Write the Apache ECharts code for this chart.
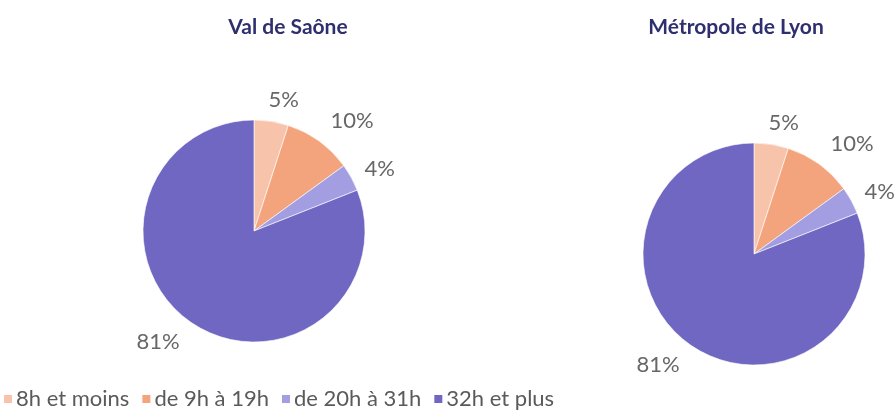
<!DOCTYPE html>
<html>
<head>
<meta charset="utf-8">
<script src="https://cdn.jsdelivr.net/npm/echarts@6/dist/echarts.min.js"></script>
<style>
  html, body { margin: 0; padding: 0; background: #fff; }
  #chart { width: 896px; height: 415px; }
</style>
</head>
<body>
<div id="chart"></div>
<script>
// Répartition par volume horaire hebdomadaire
const categories = ['8h et moins', 'de 9h à 19h', 'de 20h à 31h', '32h et plus'];
const valDeSaone = [5, 10, 4, 81];
const metropoleLyon = [5, 10, 4, 81];
const territories = ['Val de Saône', 'Métropole de Lyon'];
const colors = ['#F7C4AB', '#F4A47D', '#A39EE2', '#6F67C1'];

const FONT = 'Lato, "Noto Sans", sans-serif';

// small per-slice nudges of the outside percentage labels
const labelNudge = [[-10, -8], [-2, -9], [-4, -2], [1, 8]];

function pieSeries(values, center) {
  return {
    type: 'pie',
    center: center,
    radius: 111,
    startAngle: 90,
    clockwise: true,
    avoidLabelOverlap: false,
    itemStyle: { borderColor: '#fff', borderWidth: 0.6 },
    label: {
      show: true,
      position: 'outside',
      formatter: p => p.value + '%',
      color: '#676767',
      fontFamily: FONT,
      fontSize: 22
    },
    labelLine: { show: false, length: 14, length2: 0 },
    labelLayout: p => ({ dx: labelNudge[p.dataIndex][0], dy: labelNudge[p.dataIndex][1] }),
    emphasis: { disabled: true },
    data: categories.map((c, i) => ({ name: c, value: values[i] }))
  };
}

const chart = echarts.init(document.getElementById('chart'), null, { renderer: 'canvas' });
chart.setOption({
  animation: false,
  color: colors,
  title: [
    { text: territories[0], left: 283, top: 12, textAlign: 'center',
      textStyle: { color: '#2F2F6F', fontFamily: FONT, fontWeight: 'bold', fontSize: 21 } },
    { text: territories[1], left: 731, top: 12, textAlign: 'center',
      textStyle: { color: '#2F2F6F', fontFamily: FONT, fontWeight: 'bold', fontSize: 21 } }
  ],
  legend: {
    left: -3,
    bottom: 0,
    icon: 'rect',
    itemWidth: 10,
    itemHeight: 10,
    itemGap: 11,
    textStyle: { color: '#5A5A5A', fontFamily: FONT, fontSize: 22, padding: [0, 0, 0, -2] },
    data: categories
  },
  series: [
    pieSeries(valDeSaone, [254, 231]),
    pieSeries(metropoleLyon, [754, 254])
  ]
});
</script>
</body>
</html>
